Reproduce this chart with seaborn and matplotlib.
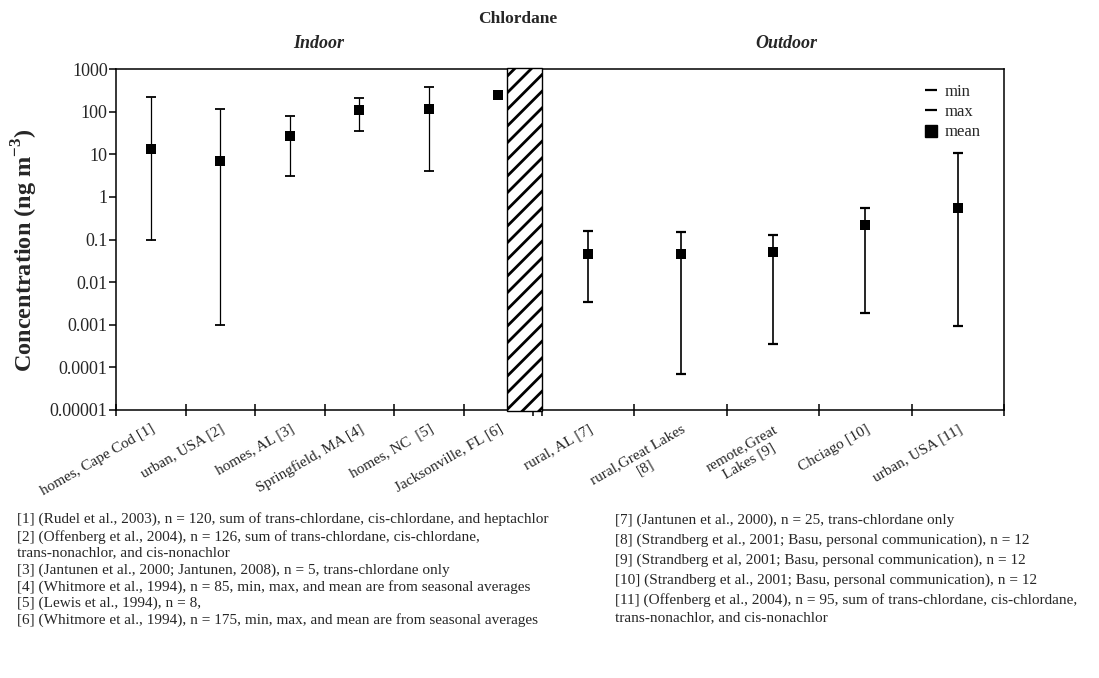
import matplotlib
matplotlib.use("Agg")
import matplotlib.pyplot as plt
import seaborn as sns
import numpy as np
import pandas as pd
from matplotlib.patches import Rectangle
from matplotlib.lines import Line2D
from matplotlib.ticker import FixedLocator, FixedFormatter, NullLocator

# ---------------- data ----------------
indoor_labels = ["homes, Cape Cod [1]", "urban, USA [2]", "homes, AL [3]",
                 "Springfield, MA [4]", "homes, NC  [5]", "Jacksonville, FL [6]"]
indoor_min = [0.1, 0.001, 3.1, 36, 4.1, 210]
indoor_max = [226, 117, 79, 214, 369, 295]
indoor_mean = [13.3, 6.8, 27.5, 109, 117, 245]

outdoor_labels = ["rural, AL [7]", "rural,Great Lakes\n[8]", "remote,Great\nLakes [9]",
                  "Chciago [10]", "urban, USA [11]"]
outdoor_min = [0.0035, 0.00007, 0.00035, 0.0019, 0.00096]
outdoor_max = [0.158, 0.147, 0.126, 0.56, 10.7]
outdoor_mean = [0.045, 0.045, 0.05, 0.22, 0.56]

ytick_values = [1000, 100, 10, 1, 0.1, 0.01, 0.001, 0.0001, 0.00001]
ytick_labels = ["1000", "100", "10", "1", "0.1", "0.01", "0.001", "0.0001", "0.00001"]

notes_left = [
    "[1] (Rudel et al., 2003), n = 120, sum of trans-chlordane, cis-chlordane, and heptachlor",
    "[2] (Offenberg et al., 2004), n = 126, sum of trans-chlordane, cis-chlordane,",
    "trans-nonachlor, and cis-nonachlor",
    "[3] (Jantunen et al., 2000; Jantunen, 2008), n = 5, trans-chlordane only",
    "[4] (Whitmore et al., 1994), n = 85, min, max, and mean are from seasonal averages",
    "[5] (Lewis et al., 1994), n = 8,",
    "[6] (Whitmore et al., 1994), n = 175, min, max, and mean are from seasonal averages",
]
notes_right = [
    "[7] (Jantunen et al., 2000), n = 25, trans-chlordane only",
    "[8] (Strandberg et al., 2001; Basu, personal communication), n = 12",
    "[9] (Strandberg et al, 2001; Basu, personal communication), n = 12",
    "[10] (Strandberg et al., 2001; Basu, personal communication), n = 12",
    "[11] (Offenberg et al., 2004), n = 95, sum of trans-chlordane, cis-chlordane,",
    "trans-nonachlor, and cis-nonachlor",
]

# ---------------- style ----------------
sns.set_style("white")
plt.rcParams['font.family'] = ['Liberation Serif', 'DejaVu Serif']
plt.rcParams['mathtext.fontset'] = 'custom'
plt.rcParams['mathtext.rm'] = 'Liberation Serif'
plt.rcParams['mathtext.bf'] = 'Liberation Serif:bold'
plt.rcParams['hatch.linewidth'] = 2.0

W, H = 1099, 678
fig = plt.figure(figsize=(W / 100, H / 100), dpi=100)

def fx(px):
    return px / W

def fy(py):
    return 1 - py / H

top_px, bot_px = 69, 410
axL = fig.add_axes([fx(116), fy(bot_px), fx(533) - fx(116), fy(top_px) - fy(bot_px)])
axR = fig.add_axes([fx(542), fy(bot_px), fx(1004) - fx(542), fy(top_px) - fy(bot_px)])

def draw_panel(ax, labels, vmin, vmax, vmean, lw):
    n = len(labels)
    pos = np.arange(n) + 0.5
    df = pd.DataFrame({"x": pos, "mean": vmean, "min": vmin, "max": vmax})
    lower = df["mean"] - df["min"]
    upper = df["max"] - df["mean"]
    ax.errorbar(df["x"], df["mean"], yerr=[lower, upper], fmt="none",
                ecolor="black", elinewidth=lw, capsize=3.3, capthick=lw + 0.4, zorder=2)
    sns.scatterplot(data=df, x="x", y="mean", marker="s", s=62, color="black",
                    edgecolor="black", linewidth=0, ax=ax, zorder=3, legend=False)
    ax.set_yscale("log")
    ax.set_ylim(1e-5, 1000)
    ax.set_xlim(0, n)
    ax.xaxis.set_major_locator(FixedLocator(np.arange(n + 1)))
    ax.xaxis.set_major_formatter(FixedFormatter([""] * (n + 1)))
    ax.xaxis.set_minor_locator(FixedLocator(pos))
    ax.xaxis.set_minor_formatter(FixedFormatter(labels))
    ax.tick_params(axis="x", which="major", direction="inout", length=8, width=1.1,
                   color="black", bottom=True)
    ax.tick_params(axis="x", which="minor", length=0, labelsize=11, pad=9)
    for t in ax.xaxis.get_minorticklabels():
        t.set_rotation(30)
        t.set_ha("right")
        t.set_rotation_mode("anchor")
        t.set_multialignment("center")
    ax.set_xlabel("")
    ax.set_ylabel("")
    for s in ax.spines.values():
        s.set_color("black")
        s.set_linewidth(1.1)

draw_panel(axL, indoor_labels, indoor_min, indoor_max, indoor_mean, 0.9)
draw_panel(axR, outdoor_labels, outdoor_min, outdoor_max, outdoor_mean, 1.2)

axL.yaxis.set_major_locator(FixedLocator(ytick_values))
axL.yaxis.set_major_formatter(FixedFormatter(ytick_labels))
axL.yaxis.set_minor_locator(NullLocator())
axL.tick_params(axis="y", which="major", direction="out", length=5, width=1.1,
                color="black", left=True, labelsize=13, pad=1)
axL.spines["right"].set_visible(False)

axR.yaxis.set_major_locator(NullLocator())
axR.yaxis.set_minor_locator(NullLocator())
axR.spines["left"].set_visible(False)

fig.text(fx(25), fy(250), r"Concentration (ng m$^{\mathbf{-3}}$)", rotation=90,
         ha="center", va="center", fontsize=17.5, fontweight="bold")

# hatched separator
rect = Rectangle((fx(507), fy(411)), fx(542) - fx(507), fy(68) - fy(411),
                 transform=fig.transFigure, facecolor="white", edgecolor="black",
                 hatch="//", linewidth=1.0, zorder=5)
fig.add_artist(rect)

# legend
handles = [Line2D([], [], linestyle="none", marker="_", markersize=9, markeredgewidth=1.6,
                  color="black", label="min"),
           Line2D([], [], linestyle="none", marker="_", markersize=9, markeredgewidth=1.6,
                  color="black", label="max"),
           Line2D([], [], linestyle="none", marker="s", markersize=8, color="black",
                  label="mean")]
axR.legend(handles=handles, loc="upper right", frameon=False, fontsize=12,
           handlelength=0.9, handletextpad=0.4, labelspacing=0.25,
           bbox_to_anchor=(0.972, 0.985), borderaxespad=0.2)

# titles
fig.text(fx(518), fy(19), "Chlordane", ha="center", va="center", fontsize=12.5,
         fontweight="bold")
fig.text(fx(319), fy(44), "Indoor", ha="center", va="center", fontsize=13,
         fontweight="bold", fontstyle="italic")
fig.text(fx(786), fy(44), "Outdoor", ha="center", va="center", fontsize=13,
         fontweight="bold", fontstyle="italic")

# footnotes
left_y = [519, 537, 553, 570, 587, 603, 620]
for t, y in zip(notes_left, left_y):
    fig.text(fx(17), fy(y), t, ha="left", va="center", fontsize=11)
right_y = [520, 540, 560, 580, 600, 618]
for t, y in zip(notes_right, right_y):
    fig.text(fx(615), fy(y), t, ha="left", va="center", fontsize=11)

fig.savefig("out.png", dpi=100, facecolor="white")
